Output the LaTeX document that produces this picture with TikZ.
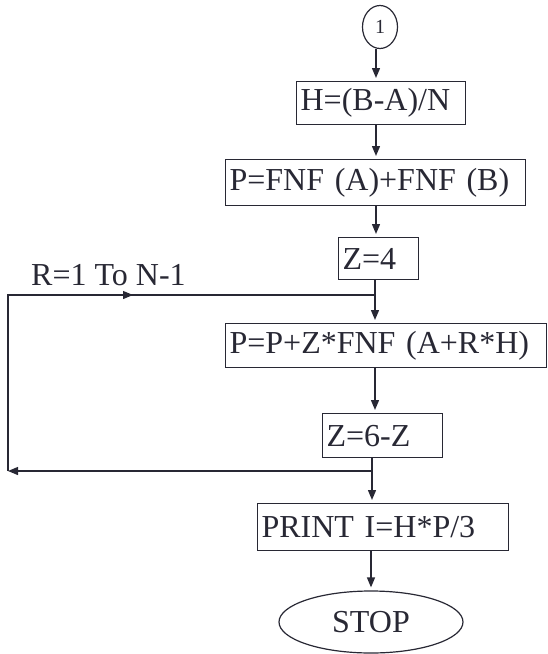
\documentclass[tikz,border=0pt]{standalone}
\usepackage{fontspec}
\setmainfont{Liberation Serif}
\usetikzlibrary{arrows.meta,shapes.geometric}
\definecolor{ink}{RGB}{40,40,52}
\begin{document}
\begin{tikzpicture}[x=1pt,y=-1pt,
  every node/.style={font=\fontsize{32}{36}\selectfont, text=ink},
  box/.style={draw=ink, line width=1.2pt, rectangle, anchor=north west,
              inner xsep=4pt, inner ysep=0pt, align=left},
  flow/.style={draw=ink, line width=1.4pt,
               -{Triangle[length=10pt,width=8pt]}, shorten >=3pt},
  loopline/.style={draw=ink, line width=1.2pt}]
\useasboundingbox (0,0) rectangle (547,654);

% spine of the main flow
\coordinate (sp) at (376,0);
\coordinate (sq) at (371,0);

% connector symbol
\node[draw=ink, ellipse, line width=1.2pt, minimum width=35pt, minimum height=43pt,
      inner sep=0pt, font=\fontsize{20}{22}\selectfont] (c) at (380,27) {1};

% process boxes
\node[box, text width=161pt, minimum height=43pt] (h)  at (296,81)  {H=(B-A)/N};
\node[box, text width=292pt, minimum height=46pt] (p)  at (225,159) {P=FNF (A)+FNF (B)};
\node[box, text width=72pt,  minimum height=42pt] (z4) at (338,237) {Z=4};
\node[box, text width=313pt, minimum height=44pt] (p2) at (225,323) {P=P+Z*FNF (A+R*H)};
\node[box, text width=112pt, minimum height=44pt] (z6) at (322,413) {Z=6-Z};
\node[box, text width=243pt, minimum height=47pt] (pr) at (257,503) {PRINT I=H*P/3};

% terminal
\node[draw=ink, ellipse, line width=1.2pt, minimum width=184pt, minimum height=62pt,
      inner sep=0pt] (stop) at (371,622) {STOP};

% loop label
\node[anchor=base west, inner sep=0pt] (lbl) at (31,285) {R=1 To N-1};

% loop corners and junctions
\coordinate (j1) at (375,295);
\coordinate (c1) at (8,295);
\coordinate (m1) at (133,295);
\coordinate (c2) at (8,471);
\coordinate (j2) at (372,471);

% main flow
\draw[flow] (c.south -| sp) -- (h.north -| sp);
\draw[flow] (h.south -| sp) -- (p.north -| sp);
\draw[flow] (p.south -| sp) -- (z4.north -| sp);
\draw[flow] (z4.south -| j1) -- (p2.north -| j1);
\draw[flow] (p2.south -| j1) -- (z6.north -| j1);
\draw[flow] (z6.south -| j2) -- (pr.north -| j2);
\draw[flow] (pr.south -| sq) -- (stop.north -| sq);

% loop back
\draw[flow, shorten >=0pt, line width=1.2pt] (j2) -- (c2);
\draw[loopline] (c2) -- (c1) -- (j1);
\draw[flow, shorten >=0pt, line width=1.2pt] (c1) -- (m1);
\end{tikzpicture}
\end{document}
